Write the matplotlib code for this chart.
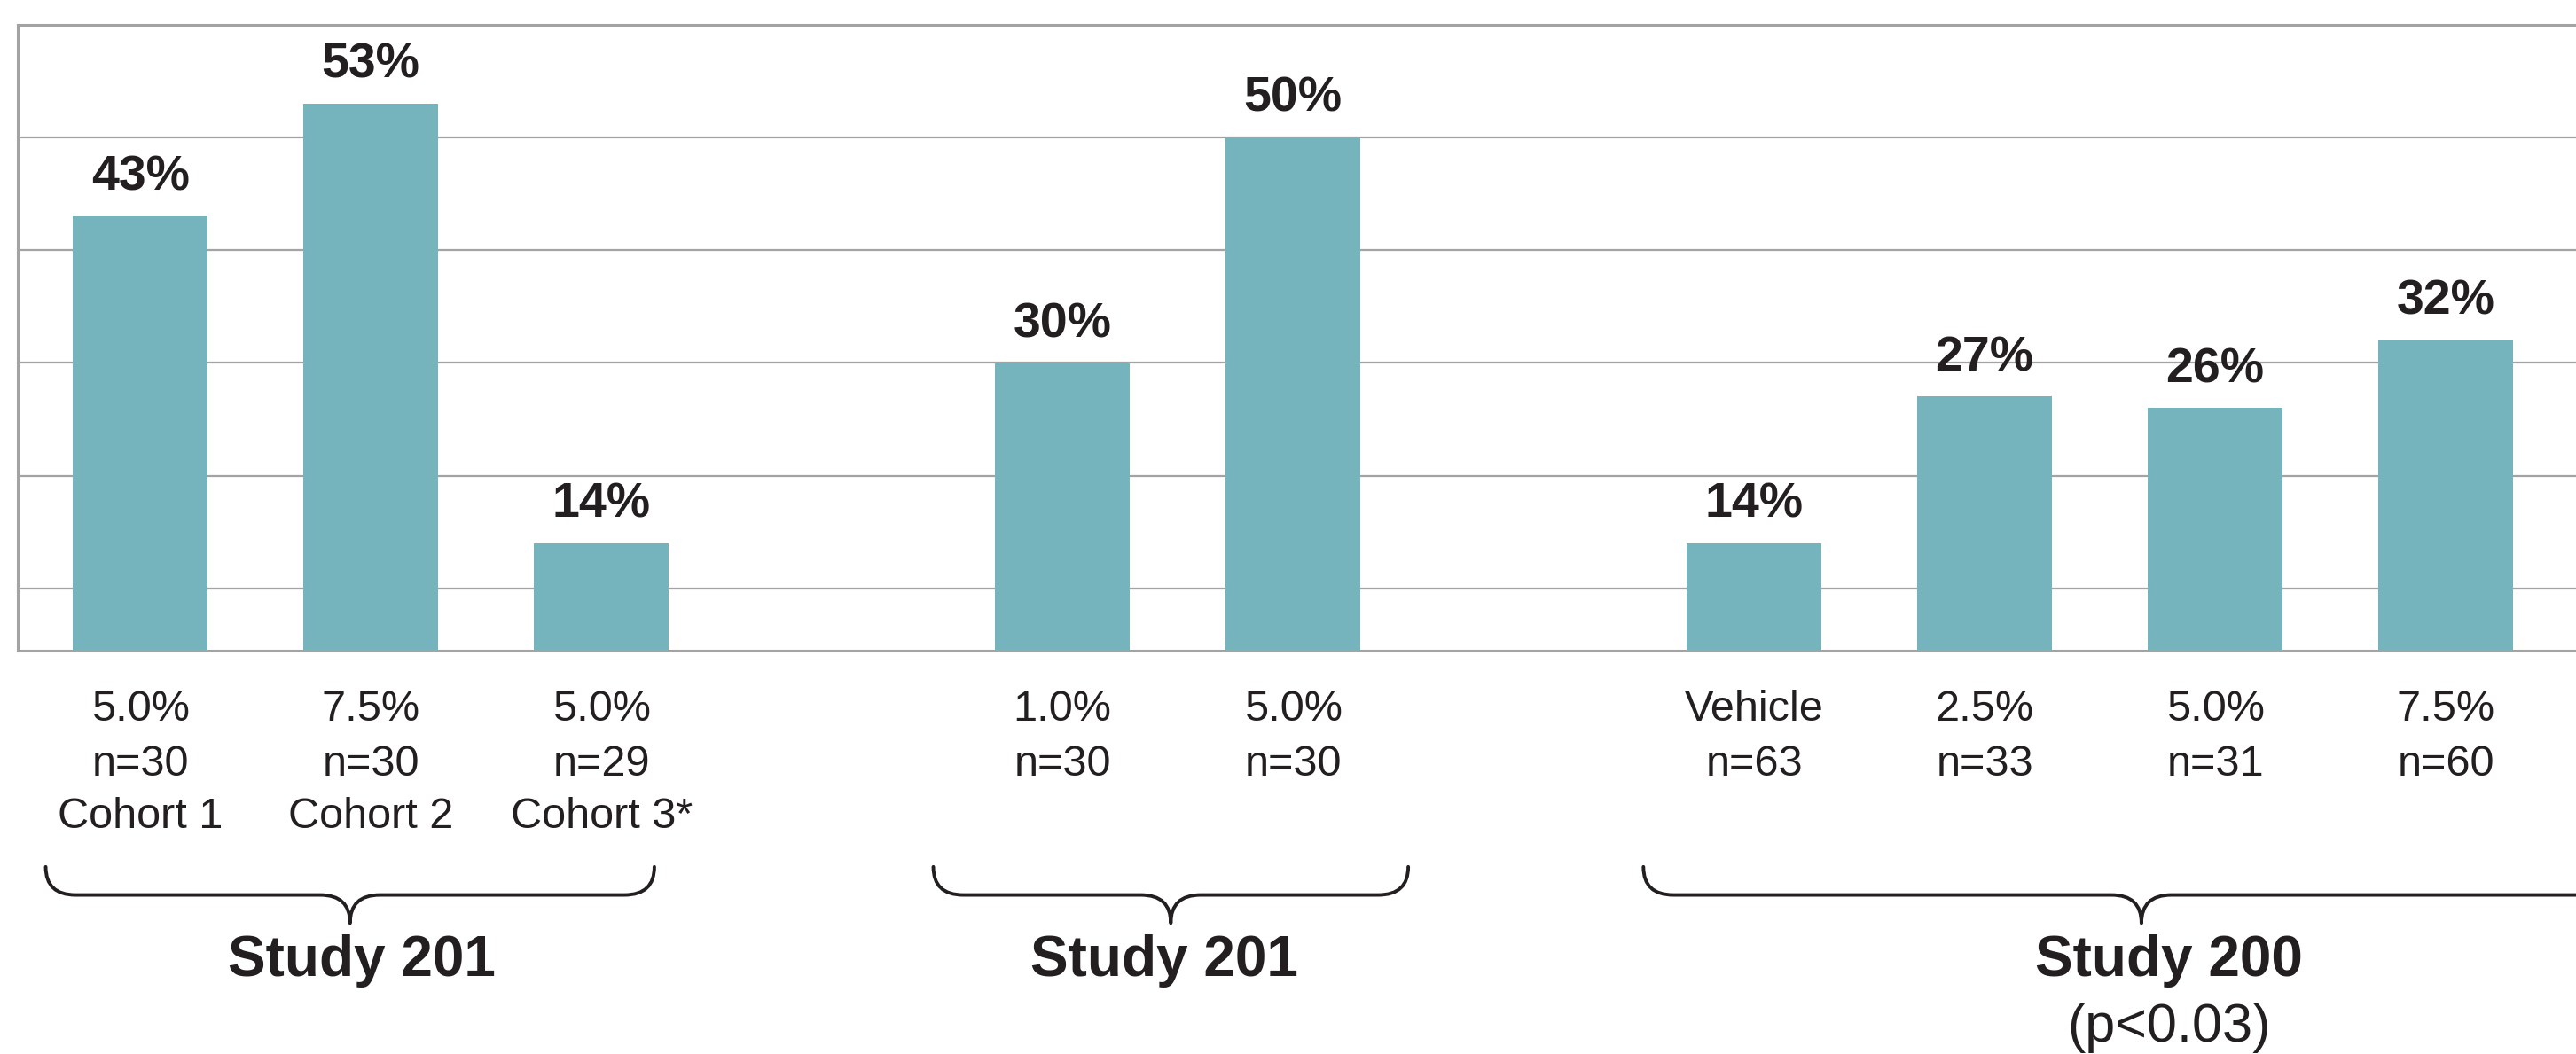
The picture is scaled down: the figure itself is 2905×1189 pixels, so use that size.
import numpy as np
import matplotlib.pyplot as plt
from matplotlib.path import Path
from matplotlib.patches import PathPatch
import matplotlib.transforms as mtransforms

plt.rcParams['font.family'] = ['Liberation Sans', 'DejaVu Sans']

# ===== Data =====
positions = [0, 1, 2, 4, 5, 7, 8, 9, 10]
values = [43, 53, 14, 30, 50, 14, 27, 26, 32]
doses = ["5.0%", "7.5%", "5.0%", "1.0%", "5.0%", "Vehicle", "2.5%", "5.0%", "7.5%"]
n_sizes = ["n=30", "n=30", "n=29", "n=30", "n=30", "n=63", "n=33", "n=31", "n=60"]
cohorts = ["Cohort 1", "Cohort 2", "Cohort 3*", "", "", "", "", "", ""]

study_names = ["Study 201", "Study 201", "Study 200"]
study_notes = ["", "", "(p<0.03)"]
bracket_spans = [(-0.41, 2.23), (3.44, 5.50), (6.52, 10.84)]
label_centers = [0.96, 4.44, 8.80]

BAR_COLOR = "#76B4BD"
TEXT_COLOR = "#231F20"
GRID_COLOR = "#A3A3A3"

# ===== Figure =====
fig = plt.figure(figsize=(29.05, 11.89), dpi=100)
ax = fig.add_axes([0.007, 0.383, 0.993, 0.5936])

ax.bar(positions, values, width=0.586, color=BAR_COLOR, zorder=2)
ax.set_xlim(-0.53, 10.565)
ax.set_ylim(4.5, 60)

ax.set_yticks(np.arange(10, 61, 10))
ax.yaxis.grid(True, color=GRID_COLOR, linewidth=1.6, zorder=1)
ax.set_xticks([])
ax.tick_params(axis="y", length=0, labelleft=False)

for side in ["left", "top", "bottom"]:
    ax.spines[side].set_color(GRID_COLOR)
    ax.spines[side].set_linewidth(2.2)
ax.spines["right"].set_visible(False)

# value labels
for x, v in zip(positions, values):
    ax.annotate(f"{v}%", (x, v), xytext=(0, 31), textcoords="offset points",
                ha="center", va="center", fontsize=40, fontweight="bold",
                color=TEXT_COLOR)

# category labels under the axis
trans = mtransforms.blended_transform_factory(ax.transData, ax.transAxes)
row_y = [-0.095, -0.182, -0.266]
for x, d, n, c in zip(positions, doses, n_sizes, cohorts):
    for txt, y in zip([d, n, c], row_y):
        if txt:
            ax.text(x, y, txt, transform=trans, ha="center", va="center",
                    fontsize=35, color=TEXT_COLOR)


# curly brackets
def brace(x0, x1, xm, y_top, y_mid, y_tip, r=0.13):
    verts = [
        (x0, y_top), (x0, y_mid), (x0 + r, y_mid),
        (xm - r, y_mid), (xm, y_mid), (xm, y_tip),
        (xm, y_mid), (xm + r, y_mid),
        (x1 - r, y_mid), (x1, y_mid), (x1, y_top),
    ]
    codes = [
        Path.MOVETO, Path.CURVE3, Path.CURVE3,
        Path.LINETO, Path.CURVE3, Path.CURVE3,
        Path.CURVE3, Path.CURVE3,
        Path.LINETO, Path.CURVE3, Path.CURVE3,
    ]
    patch = PathPatch(Path(verts, codes), transform=trans, fill=False,
                      edgecolor=TEXT_COLOR, linewidth=2.8, clip_on=False,
                      capstyle="round", joinstyle="round")
    ax.add_patch(patch)


for (x0, x1) in bracket_spans:
    brace(x0, x1, (x0 + x1) / 2, -0.346, -0.391, -0.436)

for xc, name, note in zip(label_centers, study_names, study_notes):
    ax.text(xc, -0.496, name, transform=trans, ha="center", va="center",
            fontsize=46, fontweight="bold", color=TEXT_COLOR)
    if note:
        ax.text(xc, -0.604, note, transform=trans, ha="center", va="center",
                fontsize=44, color=TEXT_COLOR)

fig.savefig("out.png", dpi=100)
